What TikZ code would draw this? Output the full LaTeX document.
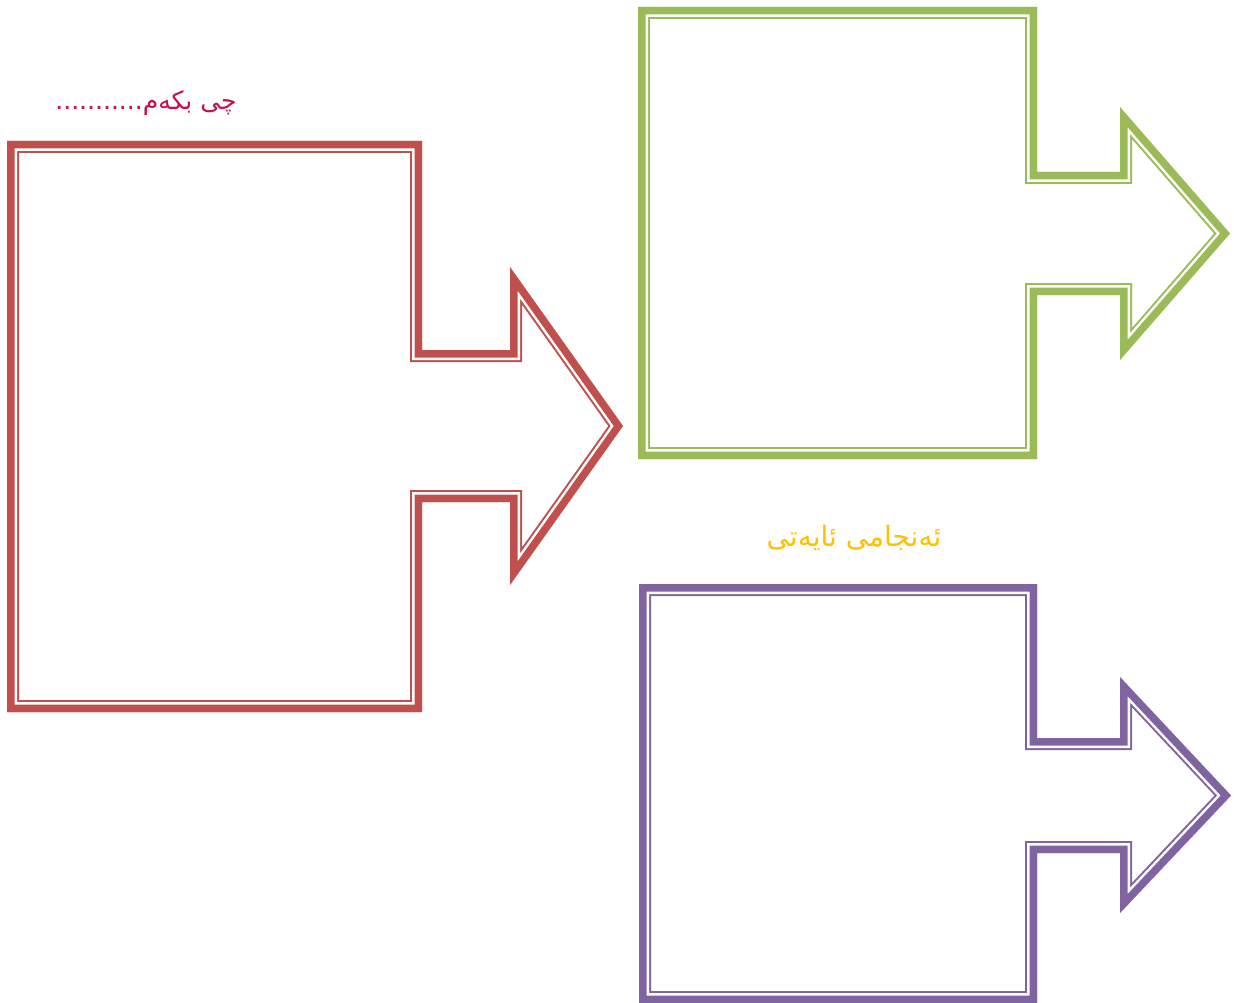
\documentclass[tikz,border=0pt]{standalone}
\usepackage{fontspec}
\newfontfamily\arabicfont[Script=Arabic]{DejaVu Sans}
\TeXXeTstate=1
\definecolor{boxred}{HTML}{C0504D}
\definecolor{boxgreen}{HTML}{9BBB59}
\definecolor{boxpurple}{HTML}{8064A2}
\definecolor{titlered}{HTML}{C8104A}
\definecolor{titlegold}{HTML}{FFC000}

% thick-thin frame, strokes kept on the inside of the outline
\newcommand{\thickthin}[2]{%
  \begin{scope}
    \clip #2;
    \draw[#1, line width=24pt] #2;
    \draw[white, line width=20pt] #2;
    \draw[#1, line width=15pt] #2;
  \end{scope}}

\begin{document}
\begin{tikzpicture}[
  x=1pt, y=-1pt,
  title/.style={font=\arabicfont\fontsize{25}{30}\selectfont, inner sep=0pt}
]
\useasboundingbox (0,0) rectangle (1234,1003);

\thickthin{boxred}{(7,141) -- (422,141) -- (422,350) -- (510,350) -- (510,267) -- (623,426)
  -- (510,585) -- (510,502) -- (422,502) -- (422,712) -- (7,712) -- cycle}
\thickthin{boxgreen}{(638,7) -- (1037,7) -- (1037,172) -- (1120,172) -- (1120,107) -- (1230,233.5)
  -- (1120,360) -- (1120,295) -- (1037,295) -- (1037,459) -- (638,459) -- cycle}
\thickthin{boxpurple}{(639,584) -- (1037,584) -- (1037,738) -- (1120,738) -- (1120,677) -- (1231,795.5)
  -- (1120,913) -- (1120,853) -- (1037,853) -- (1037,1003) -- (639,1003) -- cycle}

\node[title, text=titlered]  (whattodo) at (146,103) {\beginR چی بکەم...........\endR};
\node[title, text=titlegold, font=\arabicfont\fontsize{28}{34}\selectfont] (result) at (854,538) {\beginR ئەنجامی ئایەتی\endR};
\end{tikzpicture}
\end{document}
